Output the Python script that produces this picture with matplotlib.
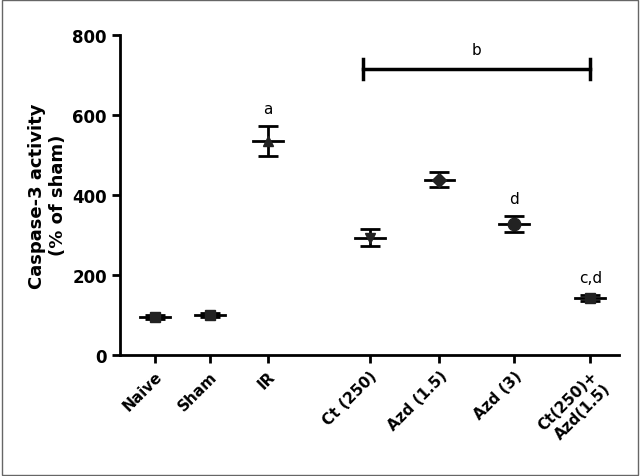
import matplotlib
matplotlib.use("Agg")
import matplotlib.pyplot as plt

groups = ["Naive", "Sham", "IR", "Ct (250)", "Azd (1.5)", "Azd (3)", "Ct(250)+\nAzd(1.5)"]
means = [95, 100, 535, 293, 438, 328, 142]
errs = [5, 5, 37, 22, 19, 20, 8]
markers = ["s", "s", "^", "v", "D", "o", "s"]
letters = ["", "", "a", "", "", "d", "c,d"]
pos = [0.7, 1.8, 2.96, 5.0, 6.4, 7.9, 9.42]

fig = plt.figure(figsize=(6.4, 4.77), dpi=100)
fig.patches.append(plt.Rectangle((0.003, 0.003), 0.994, 0.994, transform=fig.transFigure,
                                 fill=False, edgecolor="#666666", lw=1))
ax = fig.add_axes([0.1875, 0.254, 0.78, 0.671])
for x, m, e, mk, l in zip(pos, means, errs, markers, letters):
    ax.plot([x - 0.3, x + 0.3], [m, m], color="black", lw=2)
    ax.errorbar(x, m, yerr=e, fmt="none", ecolor="black", elinewidth=2, capsize=7, capthick=2)
    ax.plot(x, m, marker=mk, color="#222222", ms=7 if mk != "o" else 9)
    if l:
        ax.text(x, m + e + 25, l, ha="center", va="bottom", fontsize=11)
bx0, bx1 = 4.86, 9.42
ax.plot([bx0, bx1], [715, 715], color="black", lw=2.5)
ax.plot([bx0, bx0], [690, 740], color="black", lw=2.5)
ax.plot([bx1, bx1], [690, 740], color="black", lw=2.5)
ax.text((bx0 + bx1) / 2, 745, "b", ha="center", va="bottom", fontsize=11)

ax.set_xlim(0, 10)
ax.set_ylim(0, 800)
ax.set_yticks([0, 200, 400, 600, 800])
ax.set_xticks(pos)
ax.set_xticklabels(groups, rotation=45, ha="right", rotation_mode="anchor", fontweight="bold", fontsize=11)
for t in ax.get_yticklabels():
    t.set_fontweight("bold"); t.set_fontsize(12)
ax.set_ylabel("Caspase-3 activity\n(% of sham)", fontweight="bold", fontsize=13)
ax.spines["top"].set_visible(False)
ax.spines["right"].set_visible(False)
ax.spines["left"].set_linewidth(2)
ax.spines["bottom"].set_linewidth(2)
ax.tick_params(width=2, length=6)
fig.savefig("out.png", dpi=100)
